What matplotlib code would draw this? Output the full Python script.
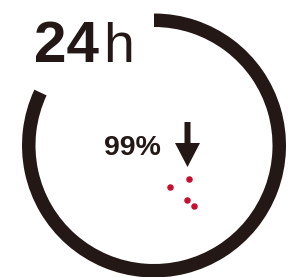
import numpy as np
import matplotlib
matplotlib.use("Agg")
from matplotlib import pyplot as plt
from matplotlib.patches import Wedge

# layout is in pixel units of the 302x277 picture (y grows downwards)
ring_center = (154, 145.5)
ring_radius = 132       # outer edge
ring_width = 13.5
ring_start = -90        # top of the ring (data angles, y axis inverted)
ring_end = 205          # ends on the upper left, leaving room for the label

title_big = "24"
title_small = "h"
value_label = "99%"

arrow_x = 187.5
arrow_top = 122
arrow_tip = 167

dot_x = [189, 170, 187, 194]
dot_y = [179, 187, 200, 206]

ink = '#231815'
red = '#c8102e'

fig = plt.figure(figsize=(3.02, 2.77), dpi=100)
ax = fig.add_axes([0, 0, 1, 1])
ax.set_xlim(0, 302)
ax.set_ylim(277, 0)
ax.axis('off')

ax.add_patch(Wedge(ring_center, ring_radius, ring_start, ring_end,
                   width=ring_width, color=ink, lw=0))

ax.text(34, 62, title_big, fontsize=42, fontweight='bold', family='Liberation Sans',
        color=ink, ha='left', va='baseline')
ax.text(103, 62, title_small, fontsize=40, fontweight='normal', family='Liberation Sans',
        color=ink, ha='left', va='baseline')

ax.text(104, 155, value_label, fontsize=20.5, fontweight='bold', family='Liberation Sans',
        color=ink, ha='left', va='baseline')

ax.arrow(arrow_x, arrow_top, 0, arrow_tip - arrow_top, width=6, head_width=25,
         head_length=24, length_includes_head=True, color=ink, lw=0)

ax.scatter(dot_x, dot_y, s=22, color=red, lw=0)

fig.savefig('out.png', dpi=100)
